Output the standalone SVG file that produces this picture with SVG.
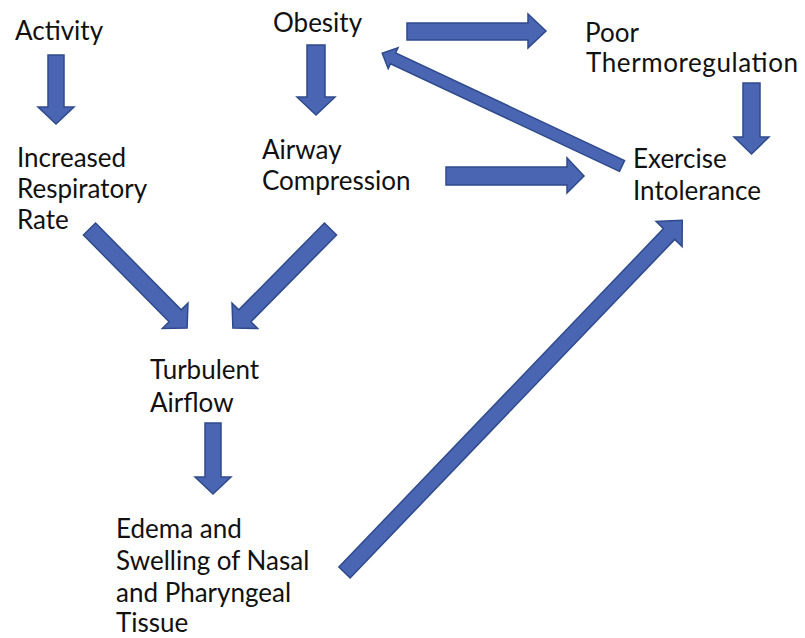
<svg xmlns="http://www.w3.org/2000/svg" width="805" height="638" viewBox="0 0 805 638">
<style>
.bg{fill:#ffffff}
.lbl{font-family:Lato,"Open Sans","Liberation Sans",sans-serif;font-size:26px;fill:#111111}
.arr{fill:#4a66b2;stroke:#2f4a8c;stroke-width:1.5;stroke-linejoin:miter}
</style>
<rect class="bg" x="0" y="0" width="805" height="638"/>
<g id="connectors">
<polygon id="c-activity-irr" class="arr" points="48,55 64,55 64,107 74,107 56,124 38,107 48,107"/>
<polygon id="c-obesity-airway" class="arr" points="307,45 325,45 325,97 335,97 316,115 297,97 307,97"/>
<polygon id="c-obesity-poor" class="arr" points="407,23 528,23 528,14 546,31 528,48 528,40 407,40"/>
<polygon id="c-poor-exercise" class="arr" points="743,83 760,83 760,137 769,137 751.5,154 734,137 743,137"/>
<polygon id="c-airway-exercise" class="arr" points="446,167 567,167 567,158 584,176 567,193 567,185 446,185"/>
<polygon id="c-turb-edema" class="arr" points="205,423 221,423 221,477 231,477 213,494 195,477 205,477"/>
<polygon id="c-irr-turb" class="arr" transform="translate(89.5,229) rotate(45.4)" points="0,-8.5 122,-8.5 122,-18 139,0 122,18 122,8.5 0,8.5"/>
<polygon id="c-airway-turb" class="arr" transform="translate(330.5,229) rotate(134.6)" points="0,-8.5 122,-8.5 122,-18 139,0 122,18 122,8.5 0,8.5"/>
<polygon id="c-edema-exercise" class="arr" transform="translate(344.5,572.5) rotate(-46.2)" points="0,-7.8 469,-7.8 469,-18 488,0 469,18 469,7.8 0,7.8"/>
<polygon id="c-exercise-obesity" class="arr" transform="translate(622,166) rotate(205.2)" points="0,-6 253,-6 253,-11.5 265,0 253,11.5 253,6 0,6"/>
</g>
<g id="n-activity"><text class="lbl" x="15" y="40">Activity</text></g>
<g id="n-obesity"><text class="lbl" x="273" y="32">Obesity</text></g>
<g id="n-poor"><text class="lbl" x="585" y="42">Poor</text><text class="lbl" x="586" y="72" textLength="212" lengthAdjust="spacing">Thermoregulation</text></g>
<g id="n-irr"><text class="lbl" x="17" y="167">Increased</text><text class="lbl" x="17" y="198">Respiratory</text><text class="lbl" x="17" y="229">Rate</text></g>
<g id="n-airway"><text class="lbl" x="262" y="159">Airway</text><text class="lbl" x="262" y="190">Compression</text></g>
<g id="n-exercise"><text class="lbl" x="633" y="168">Exercise</text><text class="lbl" x="633" y="200">Intolerance</text></g>
<g id="n-turbulent"><text class="lbl" x="150" y="379">Turbulent</text><text class="lbl" x="150" y="412">Airflow</text></g>
<g id="n-edema"><text class="lbl" x="116" y="538">Edema and</text><text class="lbl" x="116" y="570">Swelling of Nasal</text><text class="lbl" x="116" y="602">and Pharyngeal</text><text class="lbl" x="116" y="632">Tissue</text></g>
</svg>
